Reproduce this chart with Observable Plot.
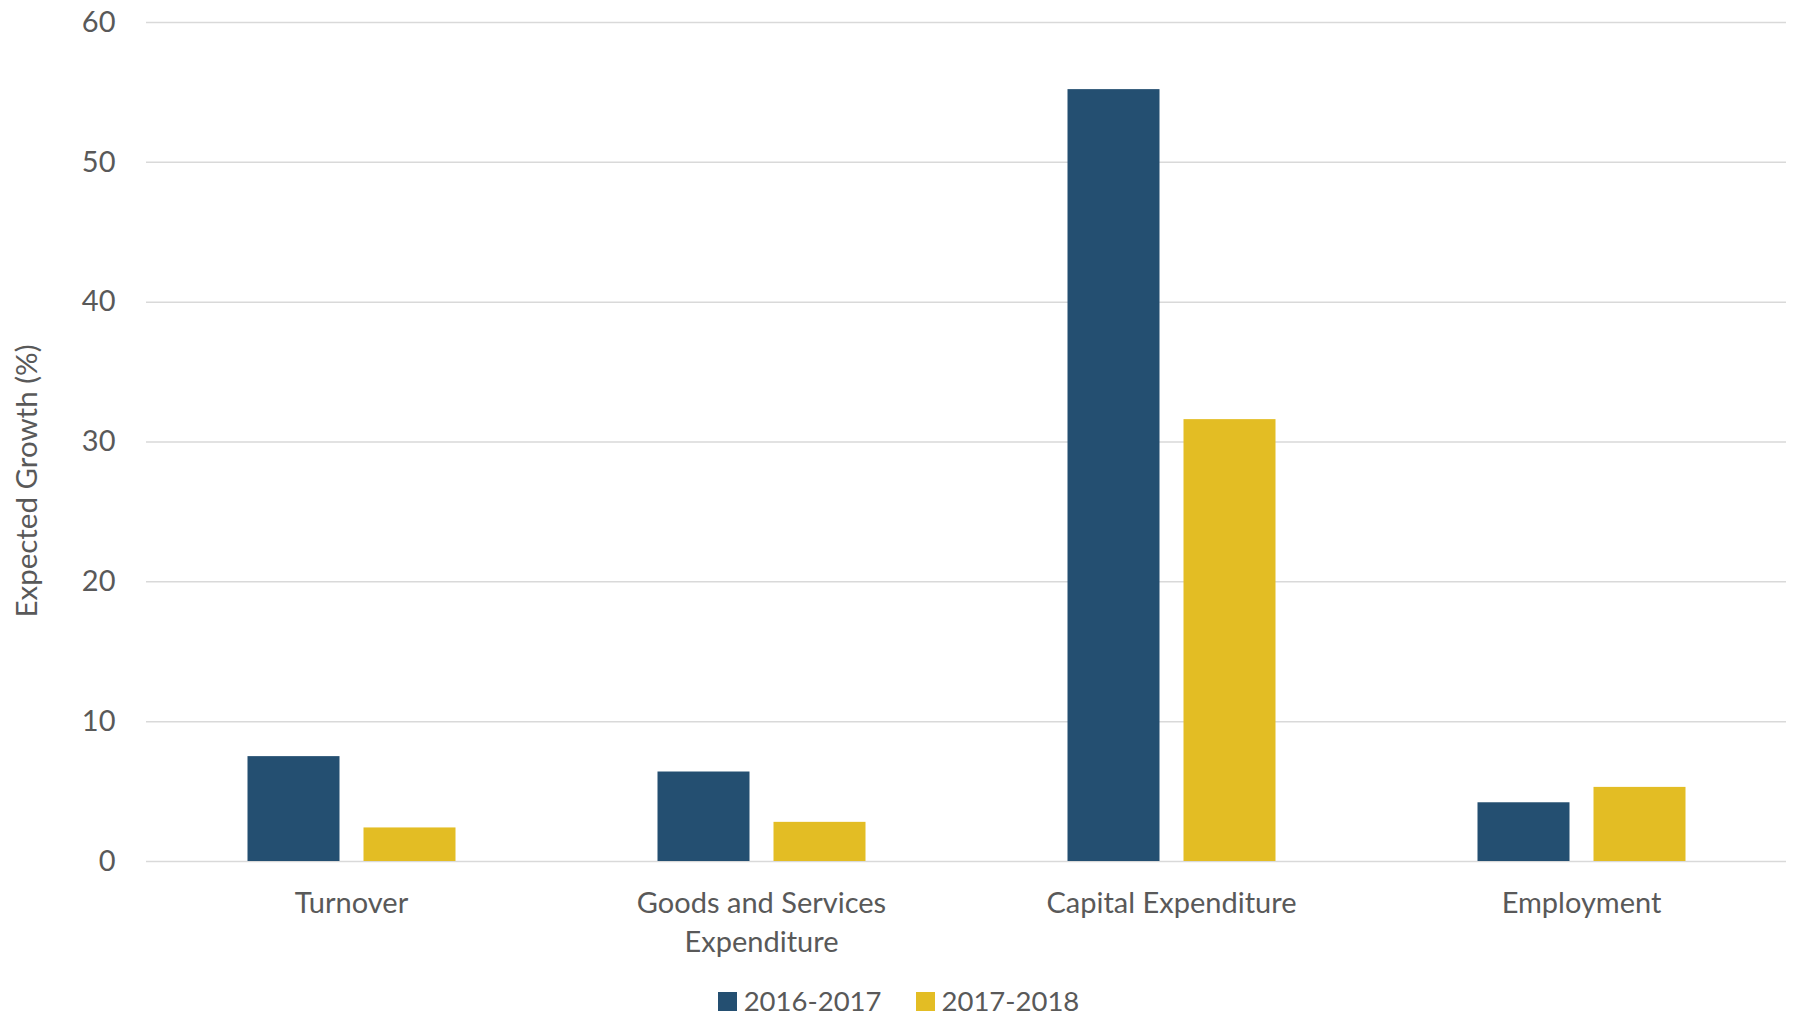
<!DOCTYPE html>
<html><head><meta charset="utf-8">
<script src="https://cdn.jsdelivr.net/npm/d3@7"></script>
<script src="https://cdn.jsdelivr.net/npm/@observablehq/plot@0.6"></script>
<style>
body{margin:0;background:#fff;font-family:Lato, "Open Sans", sans-serif;}
#wrap{position:relative;width:1797px;height:1020px;overflow:hidden;}
#chart svg{display:block;}
#ylabel{position:absolute;left:25px;top:481px;transform:translate(-50%,-50%) rotate(-90deg);white-space:nowrap;font-size:29.5px;color:#595959;}
#legend{position:absolute;top:987px;left:0;width:1797px;display:flex;justify-content:center;gap:34px;font-size:27.5px;color:#595959;line-height:28px;height:28px;}
.item{display:flex;align-items:center;gap:7px}
.sw{width:19px;height:19px;display:inline-block}
</style></head><body><div id="wrap"><div id="chart"></div><div id="ylabel">Expected Growth (%)</div><div id="legend"></div></div>
<script>
const categories = ["Turnover", "Goods and Services Expenditure", "Capital Expenditure", "Employment"];
const categoryLabels = ["Turnover", "Goods and Services\nExpenditure", "Capital Expenditure", "Employment"];
const series = ["2016-2017", "2017-2018"];
const values2016 = [7.5, 6.4, 55.2, 4.2];
const values2017 = [2.4, 2.8, 31.6, 5.3];
const colors = ["#244F71", "#E3BD24"];
const yTicks = [0, 10, 20, 30, 40, 50, 60];

const data = [];
categories.forEach((c, i) => {
  data.push({category: c, series: series[0], value: values2016[i]});
  data.push({category: c, series: series[1], value: values2017[i]});
});
const labelMap = new Map(categories.map((c, i) => [c, categoryLabels[i]]));

const chart = Plot.plot({
  width: 1797,
  height: 985,
  marginLeft: 145.5,
  marginRight: 11.5,
  marginTop: 22,
  marginBottom: 124,
  style: {fontFamily: "Lato, 'Open Sans', sans-serif", fontSize: "29px", color: "#595959", background: "white"},
  fx: {domain: categories, padding: 0, label: null},
  x: {domain: series, paddingInner: 0.21, paddingOuter: 0.86, axis: null},
  y: {domain: [0, 60], label: null},
  color: {domain: series, range: colors},
  marks: [
    Plot.ruleY(yTicks, {stroke: "#d9d9d9", strokeWidth: 1.5}),
    Plot.axisY(yTicks, {tickSize: 0, tickPadding: 31, fontSize: 29, fill: "#595959", label: null}),
    Plot.axisFx({anchor: "bottom", tickSize: 0, tickPadding: 24, fontSize: 29, fill: "#595959", lineHeight: 1.34, tickFormat: d => labelMap.get(d), label: null}),
    Plot.barY(data, {fx: "category", x: "series", y: "value", fill: "series"})
  ]
});
document.getElementById("chart").appendChild(chart);

const legend = document.getElementById("legend");
series.forEach((s, i) => {
  const item = document.createElement("div");
  item.className = "item";
  const sw = document.createElement("span");
  sw.className = "sw";
  sw.style.background = colors[i];
  const t = document.createElement("span");
  t.textContent = s;
  item.appendChild(sw);
  item.appendChild(t);
  legend.appendChild(item);
});
</script>
</body></html>
